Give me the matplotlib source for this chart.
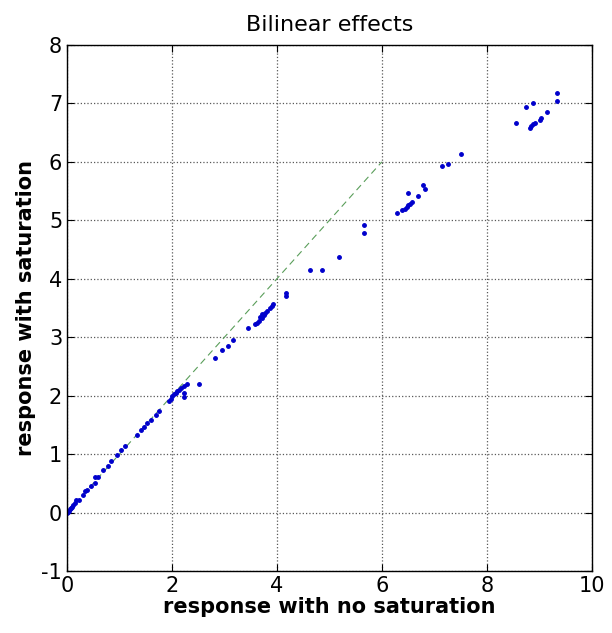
import numpy as np
from matplotlib import pyplot as plt

# response without saturation vs. with saturation
no_sat = [0.0, 0.02, 0.04, 0.06, 0.08, 0.1, 0.12, 0.15, 0.18, 0.22, 0.3, 0.34, 0.38,
          0.46, 0.53, 0.53, 0.59, 0.68, 0.78, 0.84, 0.96, 1.03, 1.1, 1.34, 1.41, 1.47,
          1.53, 1.6, 1.69, 1.75, 1.94, 1.98, 2.0, 2.04, 2.07, 2.1, 2.13, 2.18, 2.23,
          2.28, 2.52, 2.22, 2.22, 2.82, 2.95, 3.07, 3.16, 3.45, 3.58, 3.62, 3.66, 3.68,
          3.72, 3.75, 3.78, 3.72, 3.82, 3.86, 3.9, 3.93, 4.18, 4.18, 4.63, 4.85, 5.18,
          5.66, 5.66, 6.28, 6.38, 6.44, 6.47, 6.5, 6.53, 6.57, 6.5, 6.69, 6.78, 6.82,
          7.14, 7.26, 7.5, 8.55, 8.74, 8.87, 8.82, 8.85, 8.88, 8.91, 9.01, 9.04, 9.15,
          9.34, 9.34]
with_sat = [0.0, 0.01, 0.03, 0.06, 0.08, 0.1, 0.13, 0.16, 0.21, 0.22, 0.3, 0.36, 0.38,
            0.45, 0.5, 0.61, 0.61, 0.73, 0.8, 0.89, 0.99, 1.07, 1.13, 1.33, 1.41, 1.47,
            1.53, 1.59, 1.67, 1.73, 1.9, 1.95, 1.99, 2.02, 2.05, 2.08, 2.1, 2.13, 2.16,
            2.2, 2.2, 2.05, 1.98, 2.65, 2.78, 2.85, 2.95, 3.15, 3.22, 3.25, 3.28, 3.35,
            3.32, 3.38, 3.42, 3.4, 3.45, 3.5, 3.53, 3.56, 3.7, 3.75, 4.15, 4.15, 4.38,
            4.79, 4.92, 5.13, 5.18, 5.2, 5.23, 5.26, 5.28, 5.31, 5.46, 5.41, 5.6, 5.54,
            5.93, 5.97, 6.13, 6.66, 6.93, 7.0, 6.58, 6.61, 6.64, 6.67, 6.72, 6.75, 6.85,
            7.04, 7.18]

# linear reference
ref_x = [0, 6]
ref_y = [0, 6]


def main():
    plt.rcParams['axes.unicode_minus'] = False
    fig = plt.figure(figsize=(6.12, 6.33), dpi=100)
    ax = fig.add_axes([0.1095, 0.098, 0.8575, 0.831])

    ax.plot(ref_x, ref_y, color='#5a9e5a', lw=0.8, dashes=(6, 4))
    ax.plot(no_sat, with_sat, '.', color='#0000cc', ms=5)

    ax.set_xlim(0, 10)
    ax.set_ylim(-1, 8)
    ax.set_xticks(np.arange(0, 11, 2))
    ax.set_yticks(np.arange(-1, 9, 1))
    ax.grid(True, linestyle=':', color='0.35', lw=0.9)
    ax.tick_params(direction='in', top=True, right=True, labelsize=15, length=5)
    for s in ax.spines.values():
        s.set_linewidth(1.0)

    ax.set_title('Bilinear effects', fontsize=16, pad=10)
    ax.set_xlabel('response with no saturation', fontsize=15, fontweight='bold', labelpad=1)
    ax.set_ylabel('response with saturation', fontsize=15, fontweight='bold', labelpad=4)

    plt.savefig('out.png', dpi=100)
    plt.close()


if __name__ == '__main__':
    main()
